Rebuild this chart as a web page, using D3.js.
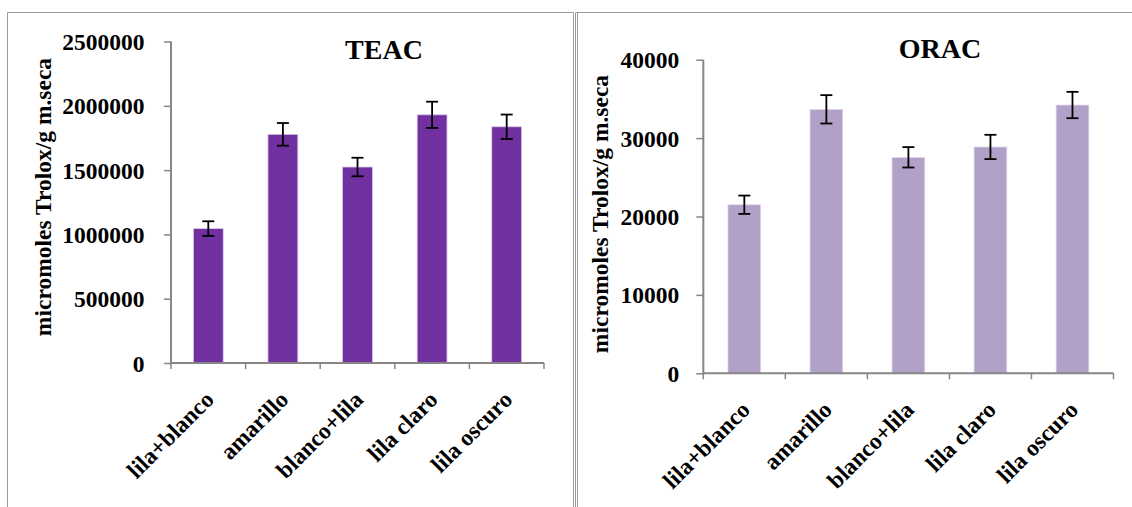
<!DOCTYPE html>
<html>
<head>
<meta charset="utf-8">
<script src="https://cdn.jsdelivr.net/npm/d3@7"></script>
<style>
  html, body { margin: 0; padding: 0; background: #fff; }
  svg { display: block; }
  text { font-family: "Liberation Serif", "Times New Roman", serif; font-weight: bold; fill: #000; }
</style>
</head>
<body>
<svg id="chart" width="1132" height="507"></svg>
<script>
const categories = ["lila+blanco", "amarillo", "blanco+lila", "lila claro", "lila oscuro"];
const teacValues = [1045000, 1778000, 1524000, 1930000, 1837000];
const teacErrors = [57000, 88000, 72000, 102000, 95000];
const teacTicks = [0, 500000, 1000000, 1500000, 2000000, 2500000];
const oracValues = [21500, 33670, 27550, 28870, 34220];
const oracErrors = [1170, 1810, 1300, 1550, 1680];
const oracTicks = [0, 10000, 20000, 30000, 40000];
const yTitle = "micromoles Trolox/g m.seca";

const svg = d3.select("#chart");
const borderColor = "#9a9a9a";
const axisColor = "#868686";

// panel borders
const borders = [
  [7.5, 12.5, 7.5, 507],
  [7.5, 12.5, 573.5, 12.5],
  [573.5, 12.5, 573.5, 507],
  [575.5, 12.5, 575.5, 507],
  [577.5, 12.5, 577.5, 507],
  [575.5, 12.5, 1132, 12.5]
];
svg.append("g").selectAll("line").data(borders).join("line")
  .attr("x1", d => d[0]).attr("y1", d => d[1]).attr("x2", d => d[2]).attr("y2", d => d[3])
  .attr("stroke", borderColor).attr("stroke-width", 1);

function drawPanel(cfg) {
  const g = svg.append("g");
  const xb = d3.scaleBand().domain(categories).range([cfg.x0, cfg.x1]);
  const y = d3.scaleLinear().domain([0, cfg.max]).range([cfg.y0, cfg.y1]);

  // bars
  g.append("g").selectAll("rect").data(cfg.values).join("rect")
    .attr("x", (d, i) => xb(categories[i]) + xb.bandwidth() * 0.3)
    .attr("width", xb.bandwidth() * 0.4)
    .attr("y", d => y(d))
    .attr("height", d => y(0) - y(d))
    .attr("fill", cfg.color)
    .attr("stroke", cfg.edge).attr("stroke-width", 0.8);

  // y axis
  const yAxis = d3.axisLeft(y).tickValues(cfg.ticks).tickSize(7).tickPadding(cfg.pad)
    .tickFormat(d3.format("d"));
  const ya = g.append("g").attr("transform", `translate(${cfg.x0},0)`).call(yAxis);
  ya.select(".domain").attr("stroke", axisColor).attr("stroke-width", 2)
    .attr("d", `M0,${cfg.y0}V${cfg.y1}`);
  ya.selectAll(".tick line").attr("stroke", axisColor).attr("stroke-width", 1.5);
  ya.selectAll(".tick text").style("font-size", "23.5px").attr("dy", "0.34em")
    .style("font-family", "'Liberation Serif', serif").style("font-weight", "bold");

  // x axis
  const xa = g.append("g");
  xa.append("line").attr("x1", cfg.x0).attr("x2", cfg.x1).attr("y1", cfg.y0).attr("y2", cfg.y0)
    .attr("stroke", axisColor).attr("stroke-width", 2);
  const bounds = categories.map(c => xb(c)).concat([cfg.x1]);
  xa.selectAll("line.tk").data(bounds).join("line").attr("class", "tk")
    .attr("x1", d => d).attr("x2", d => d).attr("y1", cfg.y0).attr("y2", cfg.y0 + 6)
    .attr("stroke", axisColor).attr("stroke-width", 1.5);
  xa.selectAll("text").data(categories).join("text")
    .attr("transform", c => `translate(${xb(c) + xb.bandwidth() / 2 + 7},${cfg.y0 + 38}) rotate(-45)`)
    .attr("text-anchor", "end")
    .style("font-size", "23.5px")
    .text(c => c);

  // error bars
  const eg = g.append("g").attr("stroke", "#000").attr("stroke-width", 1.8);
  cfg.values.forEach((v, i) => {
    const cx = xb(categories[i]) + xb.bandwidth() / 2;
    const e = cfg.errors[i];
    eg.append("line").attr("x1", cx).attr("x2", cx).attr("y1", y(v + e)).attr("y2", y(v - e));
    eg.append("line").attr("x1", cx - 6).attr("x2", cx + 6).attr("y1", y(v + e)).attr("y2", y(v + e));
    eg.append("line").attr("x1", cx - 6).attr("x2", cx + 6).attr("y1", y(v - e)).attr("y2", y(v - e));
  });

  // title
  g.append("text").attr("x", cfg.titleX).attr("y", cfg.titleY).attr("text-anchor", "middle")
    .style("font-size", "28px").text(cfg.title);

  // y title
  g.append("text").attr("transform", `translate(${cfg.ytX},${cfg.ytY}) rotate(-90)`)
    .attr("text-anchor", "middle").style("font-size", "23.5px").text(yTitle);
}

drawPanel({
  x0: 171, x1: 544, y0: 363, y1: 41.5, max: 2500000,
  values: teacValues, errors: teacErrors, ticks: teacTicks,
  color: "#7030A0", edge: "#d8c9e6", pad: 19.5,
  title: "TEAC", titleX: 384, titleY: 59,
  ytX: 51, ytY: 197
});

drawPanel({
  x0: 703.3, x1: 1113.5, y0: 373.3, y1: 59.7, max: 40000,
  values: oracValues, errors: oracErrors, ticks: oracTicks,
  color: "#B1A0C7", edge: "#e4ddef", pad: 17,
  title: "ORAC", titleX: 940, titleY: 58,
  ytX: 608, ytY: 214
});
</script>
</body>
</html>
